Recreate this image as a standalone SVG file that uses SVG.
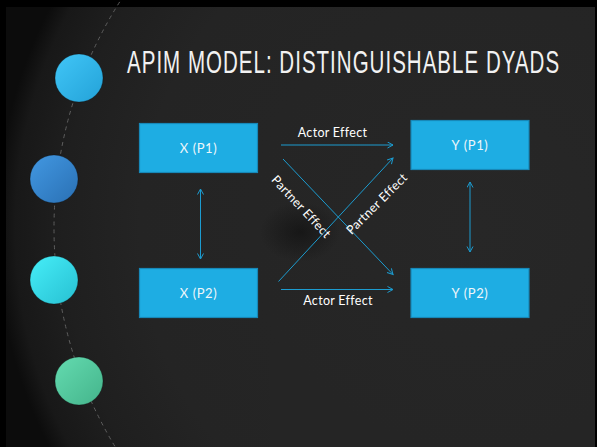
<svg xmlns="http://www.w3.org/2000/svg" width="597" height="447" viewBox="0 0 597 447">
<defs>
<radialGradient id="bg" cx="476" cy="228" r="480" gradientUnits="userSpaceOnUse">
<stop offset="0" stop-color="#272727"/>
<stop offset="0.7" stop-color="#242424"/>
<stop offset="0.86" stop-color="#1f1f1f"/>
<stop offset="0.96" stop-color="#181818"/>
<stop offset="1" stop-color="#0c0c0c"/>
</radialGradient>
<radialGradient id="spot" cx="0.5" cy="0.5" r="0.5">
<stop offset="0" stop-color="#111" stop-opacity="0.7"/>
<stop offset="1" stop-color="#111" stop-opacity="0"/>
</radialGradient>
<linearGradient id="c1" x1="0" y1="0" x2="1" y2="1"><stop offset="0" stop-color="#41c6f7"/><stop offset="1" stop-color="#23a2d8"/></linearGradient>
<linearGradient id="c2" x1="0" y1="0" x2="1" y2="1"><stop offset="0" stop-color="#4298e2"/><stop offset="1" stop-color="#2a70b4"/></linearGradient>
<linearGradient id="c3" x1="0" y1="0" x2="1" y2="1"><stop offset="0" stop-color="#46eef8"/><stop offset="1" stop-color="#27c0d2"/></linearGradient>
<linearGradient id="c4" x1="0" y1="0" x2="1" y2="1"><stop offset="0" stop-color="#64dbb0"/><stop offset="1" stop-color="#44b48b"/></linearGradient>
<marker id="ah" markerWidth="8" markerHeight="8" refX="6" refY="3.5" orient="auto-start-reverse" markerUnits="userSpaceOnUse">
<path d="M0.5,0.5 L6,3.5 L0.5,6.5" fill="none" stroke="#1c9cd0" stroke-width="1"/>
</marker>
<style>
.box{fill:#1eade3;stroke:#1788b8;stroke-width:1.2}
.bt{font-family:"Lato","Noto Sans","Liberation Sans",sans-serif;font-size:13px;fill:#eef6fa;text-anchor:middle;letter-spacing:0.6px}
.lab{font-family:"Lato","Noto Sans","Liberation Sans",sans-serif;font-size:12.5px;fill:#ffffff;text-anchor:middle;letter-spacing:0.3px}
.con{stroke:#1c9cd0;stroke-width:1;fill:none;marker-end:url(#ah)}
.dbl{marker-start:url(#ah)}
.dot{stroke:#000;stroke-opacity:0.25;stroke-width:1}
.title{font-family:"Liberation Sans",Arial,sans-serif;font-size:30.5px;fill:#f2f2f2;letter-spacing:1.5px}
</style>
</defs>
<rect x="0" y="0" width="597" height="447" fill="#000"/>
<rect x="6" y="7" width="589" height="440" fill="url(#bg)"/>
<rect x="270" y="345" width="325" height="102" fill="#272727" opacity="0.6"/>
<ellipse cx="300" cy="232" rx="40" ry="30" fill="url(#spot)"/>
<circle cx="476" cy="228" r="422" fill="none" stroke="#5e5e5e" stroke-width="1" stroke-dasharray="4 4"/>
<g id="dots">
<circle class="dot" cx="79" cy="78" r="24" fill="url(#c1)"/>
<circle class="dot" cx="54" cy="179" r="24" fill="url(#c2)"/>
<circle class="dot" cx="54" cy="280" r="24" fill="url(#c3)"/>
<circle class="dot" cx="79" cy="381" r="24" fill="url(#c4)"/>
</g>
<text class="title" transform="translate(127,73) scale(0.673,1)">APIM MODEL: DISTINGUISHABLE DYADS</text>
<g id="connectors">
<line class="con" x1="281" y1="145" x2="393" y2="145"/>
<line class="con" x1="281" y1="289.5" x2="393" y2="289.5"/>
<line class="con" x1="283" y1="159" x2="393" y2="274.5"/>
<line class="con" x1="278.5" y1="281.5" x2="393" y2="158"/>
<line class="con dbl" x1="200.5" y1="189" x2="200.5" y2="259"/>
<line class="con dbl" x1="470" y1="182" x2="470" y2="252"/>
<text class="lab" x="332.5" y="137">Actor Effect</text>
<text class="lab" x="338" y="305">Actor Effect</text>
<text class="lab" x="0" y="0" transform="translate(301,207) rotate(47) translate(0,4)">Partner Effect</text>
<text class="lab" x="0" y="0" transform="translate(377,204) rotate(-45) translate(0,4)">Partner Effect</text>
</g>
<g id="xp1"><rect class="box" x="139.5" y="123.5" width="118" height="49"/><text class="bt" x="198.5" y="152.5">X (P1)</text></g>
<g id="xp2"><rect class="box" x="139.5" y="268.5" width="118" height="49"/><text class="bt" x="198.5" y="297.5">X (P2)</text></g>
<g id="yp1"><rect class="box" x="411" y="120.5" width="118" height="49"/><text class="bt" x="470" y="149.5">Y (P1)</text></g>
<g id="yp2"><rect class="box" x="411" y="268.5" width="118" height="49"/><text class="bt" x="470" y="297.5">Y (P2)</text></g>
</svg>
